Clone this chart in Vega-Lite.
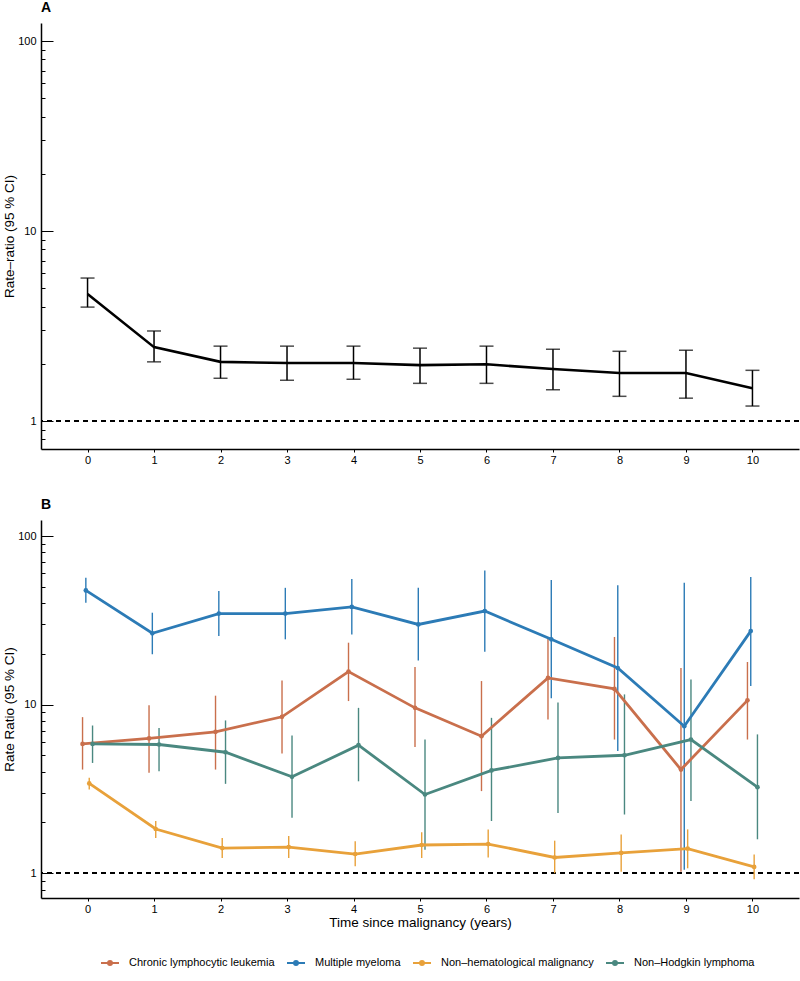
{
  "$schema": "https://vega.github.io/schema/vega-lite/v6.json",
  "padding": {"left": 2, "top": 1, "right": 0, "bottom": 0},
  "spacing": 33,
  "datasets": {
    "a": [
      {"year": 0, "rr": 4.66, "lo": 3.98, "hi": 5.66},
      {"year": 1, "rr": 2.45, "lo": 2.05, "hi": 2.98},
      {"year": 2, "rr": 2.05, "lo": 1.68, "hi": 2.48},
      {"year": 3, "rr": 2.02, "lo": 1.64, "hi": 2.48},
      {"year": 4, "rr": 2.02, "lo": 1.66, "hi": 2.48},
      {"year": 5, "rr": 1.97, "lo": 1.58, "hi": 2.42},
      {"year": 6, "rr": 1.99, "lo": 1.58, "hi": 2.48},
      {"year": 7, "rr": 1.88, "lo": 1.46, "hi": 2.39},
      {"year": 8, "rr": 1.79, "lo": 1.35, "hi": 2.33},
      {"year": 9, "rr": 1.79, "lo": 1.32, "hi": 2.36},
      {"year": 10, "rr": 1.49, "lo": 1.2, "hi": 1.85}
    ],
    "b": [
      {"group": "Multiple myeloma", "year": 0, "rr": 47.6, "lo": 40.2, "hi": 56.5},
      {"group": "Multiple myeloma", "year": 1, "rr": 26.5, "lo": 19.9, "hi": 35.1},
      {"group": "Multiple myeloma", "year": 2, "rr": 34.7, "lo": 25.5, "hi": 47.2},
      {"group": "Multiple myeloma", "year": 3, "rr": 34.7, "lo": 24.4, "hi": 49.3},
      {"group": "Multiple myeloma", "year": 4, "rr": 38.0, "lo": 26.1, "hi": 55.7},
      {"group": "Multiple myeloma", "year": 5, "rr": 29.9, "lo": 18.3, "hi": 49.3},
      {"group": "Multiple myeloma", "year": 6, "rr": 35.9, "lo": 20.6, "hi": 62.5},
      {"group": "Multiple myeloma", "year": 7, "rr": 24.4, "lo": 10.9, "hi": 54.8},
      {"group": "Multiple myeloma", "year": 8, "rr": 16.5, "lo": 5.3, "hi": 51.0},
      {"group": "Multiple myeloma", "year": 9, "rr": 7.45, "lo": 1.05, "hi": 52.8},
      {"group": "Multiple myeloma", "year": 10, "rr": 27.3, "lo": 12.9, "hi": 57.1},
      {"group": "Chronic lymphocytic leukemia", "year": 0, "rr": 5.85, "lo": 4.12, "hi": 8.43},
      {"group": "Chronic lymphocytic leukemia", "year": 1, "rr": 6.3, "lo": 3.94, "hi": 9.9},
      {"group": "Chronic lymphocytic leukemia", "year": 2, "rr": 6.9, "lo": 4.12, "hi": 11.3},
      {"group": "Chronic lymphocytic leukemia", "year": 3, "rr": 8.47, "lo": 5.13, "hi": 13.9},
      {"group": "Chronic lymphocytic leukemia", "year": 4, "rr": 15.7, "lo": 10.5, "hi": 23.3},
      {"group": "Chronic lymphocytic leukemia", "year": 5, "rr": 9.57, "lo": 5.6, "hi": 16.7},
      {"group": "Chronic lymphocytic leukemia", "year": 6, "rr": 6.5, "lo": 3.07, "hi": 13.8},
      {"group": "Chronic lymphocytic leukemia", "year": 7, "rr": 14.4, "lo": 8.17, "hi": 24.9},
      {"group": "Chronic lymphocytic leukemia", "year": 8, "rr": 12.4, "lo": 6.21, "hi": 25.2},
      {"group": "Chronic lymphocytic leukemia", "year": 9, "rr": 4.12, "lo": 1.02, "hi": 16.5},
      {"group": "Chronic lymphocytic leukemia", "year": 10, "rr": 10.6, "lo": 6.21, "hi": 17.9},
      {"group": "Non–Hodgkin lymphoma", "year": 0, "rr": 5.85, "lo": 4.51, "hi": 7.52},
      {"group": "Non–Hodgkin lymphoma", "year": 1, "rr": 5.8, "lo": 4.03, "hi": 7.28},
      {"group": "Non–Hodgkin lymphoma", "year": 2, "rr": 5.22, "lo": 3.39, "hi": 8.06},
      {"group": "Non–Hodgkin lymphoma", "year": 3, "rr": 3.73, "lo": 2.13, "hi": 6.56},
      {"group": "Non–Hodgkin lymphoma", "year": 4, "rr": 5.75, "lo": 3.51, "hi": 9.57},
      {"group": "Non–Hodgkin lymphoma", "year": 5, "rr": 2.93, "lo": 1.38, "hi": 6.21},
      {"group": "Non–Hodgkin lymphoma", "year": 6, "rr": 4.07, "lo": 2.04, "hi": 8.35},
      {"group": "Non–Hodgkin lymphoma", "year": 7, "rr": 4.83, "lo": 2.28, "hi": 10.3},
      {"group": "Non–Hodgkin lymphoma", "year": 8, "rr": 5.01, "lo": 2.23, "hi": 11.5},
      {"group": "Non–Hodgkin lymphoma", "year": 9, "rr": 6.21, "lo": 2.68, "hi": 14.1},
      {"group": "Non–Hodgkin lymphoma", "year": 10, "rr": 3.24, "lo": 1.59, "hi": 6.66},
      {"group": "Non–hematological malignancy", "year": 0, "rr": 3.41, "lo": 3.14, "hi": 3.68},
      {"group": "Non–hematological malignancy", "year": 1, "rr": 1.83, "lo": 1.62, "hi": 2.04},
      {"group": "Non–hematological malignancy", "year": 2, "rr": 1.41, "lo": 1.23, "hi": 1.62},
      {"group": "Non–hematological malignancy", "year": 3, "rr": 1.43, "lo": 1.23, "hi": 1.66},
      {"group": "Non–hematological malignancy", "year": 4, "rr": 1.3, "lo": 1.1, "hi": 1.55},
      {"group": "Non–hematological malignancy", "year": 5, "rr": 1.47, "lo": 1.23, "hi": 1.75},
      {"group": "Non–hematological malignancy", "year": 6, "rr": 1.49, "lo": 1.24, "hi": 1.82},
      {"group": "Non–hematological malignancy", "year": 7, "rr": 1.24, "lo": 1.0, "hi": 1.56},
      {"group": "Non–hematological malignancy", "year": 8, "rr": 1.32, "lo": 1.02, "hi": 1.7},
      {"group": "Non–hematological malignancy", "year": 9, "rr": 1.4, "lo": 1.07, "hi": 1.82},
      {"group": "Non–hematological malignancy", "year": 10, "rr": 1.09, "lo": 0.92, "hi": 1.29}
    ]
  },
  "vconcat": [
    {
      "width": 758,
      "height": 426,
      "title": {"text": "A", "anchor": "start", "frame": "group", "fontSize": 14, "fontWeight": "bold", "font": "Liberation Sans", "offset": 8, "color": "black"},
      "data": {"name": "a"},
      "layer": [
        {
          "mark": {"type": "rule", "strokeDash": [5, 4], "strokeWidth": 1.2, "color": "black"},
          "encoding": {"y": {"datum": 1, "type": "quantitative", "title": "Rate–ratio (95 % CI)"}}
        },
        {
          "mark": {"type": "rule", "strokeWidth": 1.5, "color": "black"},
          "encoding": {
            "x": {"field": "year", "type": "quantitative", "title": null},
            "y": {"field": "lo", "type": "quantitative", "title": "Rate–ratio (95 % CI)"},
            "y2": {"field": "hi"}
          }
        },
        {
          "mark": {"type": "tick", "orient": "horizontal", "size": 14, "thickness": 1.5, "color": "black"},
          "encoding": {
            "x": {"field": "year", "type": "quantitative", "title": null},
            "y": {"field": "lo", "type": "quantitative", "title": "Rate–ratio (95 % CI)"}
          }
        },
        {
          "mark": {"type": "tick", "orient": "horizontal", "size": 14, "thickness": 1.5, "color": "black"},
          "encoding": {
            "x": {"field": "year", "type": "quantitative", "title": null},
            "y": {"field": "hi", "type": "quantitative", "title": "Rate–ratio (95 % CI)"}
          }
        },
        {
          "mark": {"type": "line", "strokeWidth": 2.6, "color": "black"},
          "encoding": {
            "x": {
              "field": "year", "type": "quantitative", "title": null,
              "scale": {"domain": [-0.7, 10.7], "nice": false, "zero": false},
              "axis": {"values": [0, 1, 2, 3, 4, 5, 6, 7, 8, 9, 10], "format": "d", "tickSize": 3, "labelPadding": 2}
            },
            "y": {
              "field": "rr", "type": "quantitative", "title": "Rate–ratio (95 % CI)",
              "scale": {"type": "log", "domain": [0.713, 124.5], "nice": false},
              "axis": {
                "values": [0.8, 0.9, 1, 2, 3, 4, 5, 6, 7, 8, 9, 10, 20, 30, 40, 50, 60, 70, 80, 90, 100],
                "labelExpr": "(datum.value == 1 || datum.value == 10 || datum.value == 100) ? format(datum.value, 'd') : ''",
                "tickSize": {"condition": {"test": "datum.value == 1 || datum.value == 10 || datum.value == 100", "value": -12}, "value": -4},
                "labelPadding": 17,
                "titlePadding": 1
              }
            }
          }
        }
      ]
    },
    {
      "width": 758,
      "height": 378,
      "title": {"text": "B", "anchor": "start", "frame": "group", "fontSize": 14, "fontWeight": "bold", "font": "Liberation Sans", "offset": 8, "color": "black"},
      "data": {"name": "b"},
      "layer": [
        {
          "mark": {"type": "rule", "strokeDash": [5, 4], "strokeWidth": 1.2, "color": "black"},
          "encoding": {"y": {"datum": 1, "type": "quantitative", "title": "Rate Ratio (95 % CI)"}}
        },
        {
          "mark": {"type": "rule", "strokeWidth": 1.4, "xOffset": {"expr": "datum.group === 'Chronic lymphocytic leukemia' ? -5 : datum.group === 'Multiple myeloma' ? -1.7 : datum.group === 'Non–hematological malignancy' ? 1.7 : 5"}},
          "encoding": {
            "x": {"field": "year", "type": "quantitative", "title": "Time since malignancy (years)"},
            "y": {"field": "lo", "type": "quantitative", "title": "Rate Ratio (95 % CI)"},
            "y2": {"field": "hi"},
            "color": {"field": "group", "type": "nominal"}
          }
        },
        {
          "mark": {"type": "line", "strokeWidth": 2.8, "xOffset": {"expr": "datum.group === 'Chronic lymphocytic leukemia' ? -5 : datum.group === 'Multiple myeloma' ? -1.7 : datum.group === 'Non–hematological malignancy' ? 1.7 : 5"}},
          "encoding": {
            "x": {
              "field": "year", "type": "quantitative", "title": "Time since malignancy (years)",
              "scale": {"domain": [-0.7, 10.7], "nice": false, "zero": false},
              "axis": {"values": [0, 1, 2, 3, 4, 5, 6, 7, 8, 9, 10], "format": "d", "tickSize": 3, "labelPadding": 2, "titlePadding": 1}
            },
            "y": {
              "field": "rr", "type": "quantitative", "title": "Rate Ratio (95 % CI)",
              "scale": {"type": "log", "domain": [0.713, 124.5], "nice": false},
              "axis": {
                "values": [0.8, 0.9, 1, 2, 3, 4, 5, 6, 7, 8, 9, 10, 20, 30, 40, 50, 60, 70, 80, 90, 100],
                "labelExpr": "(datum.value == 1 || datum.value == 10 || datum.value == 100) ? format(datum.value, 'd') : ''",
                "tickSize": {"condition": {"test": "datum.value == 1 || datum.value == 10 || datum.value == 100", "value": -12}, "value": -4},
                "labelPadding": 17,
                "titlePadding": 1
              }
            },
            "color": {
              "field": "group", "type": "nominal",
              "scale": {"domain": ["Chronic lymphocytic leukemia", "Multiple myeloma", "Non–hematological malignancy", "Non–Hodgkin lymphoma"], "range": ["#C96F4C", "#2C7BB6", "#E8A13A", "#4A8880"]},
              "legend": {"orient": "none", "direction": "horizontal", "title": null, "legendX": 59, "legendY": 930}
            }
          }
        },
        {
          "mark": {"type": "point", "filled": true, "size": 22, "opacity": 1, "xOffset": {"expr": "datum.group === 'Chronic lymphocytic leukemia' ? -5 : datum.group === 'Multiple myeloma' ? -1.7 : datum.group === 'Non–hematological malignancy' ? 1.7 : 5"}},
          "encoding": {
            "x": {"field": "year", "type": "quantitative", "title": "Time since malignancy (years)"},
            "y": {"field": "rr", "type": "quantitative", "title": "Rate Ratio (95 % CI)"},
            "color": {"field": "group", "type": "nominal"}
          }
        }
      ]
    }
  ],
  "config": {
    "view": {"stroke": null},
    "axis": {
      "grid": false,
      "domainColor": "black",
      "domainWidth": 1.5,
      "tickColor": "black",
      "tickWidth": 1,
      "labelFont": "Liberation Sans",
      "labelFontSize": 11,
      "labelColor": "black",
      "titleFont": "Liberation Sans",
      "titleFontSize": 13.5,
      "titleFontWeight": "normal",
      "titleColor": "black"
    },
    "legend": {
      "labelFont": "Liberation Sans",
      "labelFontSize": 11,
      "labelColor": "black",
      "symbolType": "M-1,0L1,0M-0.22,0A0.22,0.22,0,1,1,0.22,0A0.22,0.22,0,1,1,-0.22,0",
      "symbolSize": 324,
      "symbolStrokeWidth": 2,
      "columnPadding": 8,
      "labelOffset": 9
    }
  }
}
